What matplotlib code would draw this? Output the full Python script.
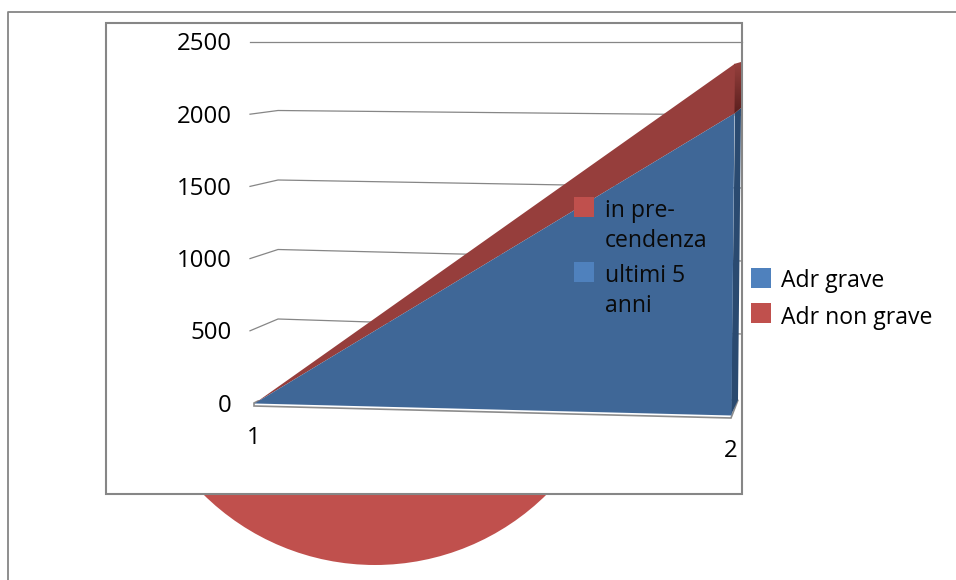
# -*- coding: utf-8 -*-
import numpy as np
import matplotlib
matplotlib.use("Agg")
import matplotlib.pyplot as plt
from matplotlib.colors import LinearSegmentedColormap
from matplotlib.patches import Circle, Polygon, Rectangle
from matplotlib.transforms import Affine2D

categories = [1, 2]
adr_grave = [0, 2000]
adr_non_grave = [0, 330]
y_ticks = [0, 500, 1000, 1500, 2000, 2500]
legend_labels = ["Adr grave", "Adr non grave"]
inner_labels = ["in pre-\ncendenza", "ultimi 5\nanni"]

FRAME = "#868686"
BLUE = "#4F81BD"
RED = "#C0504D"
BLUE_FRONT = "#3F6797"
RED_FRONT = "#963E3C"
BLUE_SIDE = "#2A4A70"
FONT = "Open Sans"

plt.rcParams["font.family"] = FONT

fig = plt.figure(figsize=(9.56, 5.8), dpi=100)
ax = fig.add_axes([0, 0, 1, 1])
ax.set_xlim(0, 956)
ax.set_ylim(580, 0)
ax.axis("off")

# pie left over from the slide, sticks out under the chart panel
ax.add_patch(Circle((375, 321), 244, facecolor=RED, edgecolor="none", zorder=1))

# outer and inner frames
ax.plot([8.5, 8.5, 956], [580, 12, 12], color=FRAME, lw=1.3, zorder=2)
ax.add_patch(Rectangle((106, 23), 636, 471, facecolor="white", edgecolor=FRAME, lw=1.5, zorder=2))

# projection (category, value) -> pixel for the front plane of the 3D area
front = Affine2D.from_values(477, 12, 0.0015, -0.151, -223, 391) + ax.transData


def front_left(v):
    return 403 - 0.1444 * v


def back_left(v):
    return 388.5 - 0.139 * v


def back_right(v):
    return 407 - 0.146 * v


# gridlines on the walls
for v in y_ticks[1:]:
    if v == y_ticks[-1]:
        ax.plot([250, 742], [front_left(v), back_right(v)], color=FRAME, lw=0.9, zorder=3)
    else:
        ax.plot([250, 278, 742], [front_left(v), back_left(v), back_right(v)],
                color=FRAME, lw=0.9, zorder=3)

for v in y_ticks:
    ax.text(231.5, front_left(v) + 2.5, str(v), ha="right", va="center", fontsize=17.3, color="black", zorder=8)
ax.text(254, 438, str(categories[0]), ha="center", va="center", fontsize=17.3, color="black", zorder=8)
ax.text(731, 451, str(categories[1]), ha="center", va="center", fontsize=17.3, color="black", zorder=8)

# floor
ax.add_patch(Polygon([(254, 403), (258, 401), (738, 400), (731, 418), (254, 406)],
                     facecolor="white", edgecolor="#8c8c8c", lw=1.2, zorder=4))

stack = np.array(adr_grave) + np.array(adr_non_grave)
cats = np.array(categories)

# right-hand side faces
ax.add_patch(Polygon([(731, 415), (738, 400), (741, 108), (735, 113)],
                     facecolor=BLUE_SIDE, edgecolor="none", zorder=5))
side = ax.imshow(np.linspace(0, 1, 50).reshape(-1, 1),
                 cmap=LinearSegmentedColormap.from_list("side", ["#96403d", "#5b1f1e"]),
                 extent=(733, 742, 114, 62), aspect="auto", zorder=5)
side.set_clip_path(Polygon([(734, 64), (741, 62), (741, 108), (734, 114)], transform=ax.transData))
ax.set_xlim(0, 956)
ax.set_ylim(580, 0)

# front faces of the stacked area
ax.fill_between(cats, adr_grave, stack, color=RED_FRONT, lw=0, zorder=6, transform=front)
ax.fill_between(cats, 0, adr_grave, color=BLUE_FRONT, lw=0, zorder=6, transform=front)

# inner (stale) legend on top of the area
for y, col, label in zip([197, 262], [RED, BLUE], inner_labels):
    ax.add_patch(Rectangle((574, y), 20, 20, facecolor=col, edgecolor="none", zorder=7))
    ax.text(605, y + 2, label, ha="left", va="top", fontsize=16.6, color="#0a0a0a",
            linespacing=1.32, zorder=8)

# legend on the right
for y, off, col, label in zip([268, 303], [13, 14.5], [BLUE, RED], legend_labels):
    ax.add_patch(Rectangle((751, y), 20, 20, facecolor=col, edgecolor="none", zorder=7))
    ax.text(781, y + off, label, ha="left", va="center", fontsize=16.6, color="black", zorder=8)

fig.savefig("out.png", dpi=100)
